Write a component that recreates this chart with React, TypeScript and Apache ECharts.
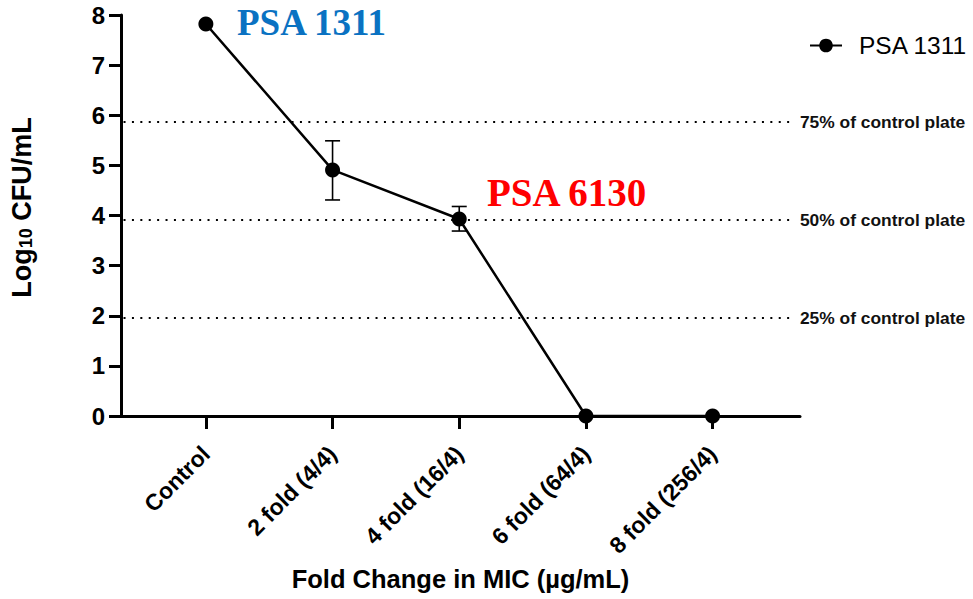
import React, { useEffect, useRef } from "react";
import * as echarts from "echarts";

const categories = ["Control", "2 fold (4/4)", "4 fold (16/4)", "6 fold (64/4)", "8 fold (256/4)"];
const meanLog = [7.82, 4.91, 3.93, 0, 0];
const errLow = [7.82, 4.31, 3.69, 0, 0];
const errHigh = [7.82, 5.49, 4.18, 0, 0];
const refLevels = [5.87, 3.91, 1.955];
const refLabels = ["75% of control plate", "50% of control plate", "25% of control plate"];
const seriesName = "PSA 1311";
const annotationTexts = ["PSA 1311", "PSA 6130"];
const annotationColors = ["#0a72c2", "#ff0000"];

const SANS = "'Liberation Sans', Arial, sans-serif";
const SERIF = "'Liberation Serif', 'Times New Roman', serif";

export default function App() {
  const ref = useRef<HTMLDivElement>(null);

  useEffect(() => {
    if (!ref.current) return;
    const chart = echarts.init(ref.current, null, { renderer: "svg" });

    const lineData = categories.map((_, i) => [i, meanLog[i]]);
    const errData = categories
      .map((_, i) => [i, errLow[i], errHigh[i]])
      .filter((d) => d[2] - d[1] > 0.001);

    const markLineData = refLevels.map((v, i) => [
      { coord: [-0.65, v] },
      { coord: [4.65, v], label: { formatter: refLabels[i] } },
    ]);

    const option: any = {
      animation: false,
      textStyle: { fontFamily: SANS },
      grid: { left: 119, right: 173, top: 15, bottom: 183, containLabel: false },
      legend: {
        data: [seriesName],
        left: 804,
        top: 28,
        itemWidth: 32,
        itemHeight: 17,
        textStyle: { fontSize: 24.5, color: "#000", fontFamily: SANS, padding: [0, 0, 0, 12] },
      },
      xAxis: {
        type: "value",
        min: -0.67,
        max: 4.69,
        splitLine: { show: false },
        axisLine: { show: true, onZero: false, lineStyle: { color: "#000", width: 3 } },
        axisTick: {
          show: true,
          customValues: [0, 1, 2, 3, 4],
          length: 13,
          lineStyle: { color: "#000", width: 3 },
        },
        axisLabel: {
          customValues: [0, 1, 2, 3, 4],
          formatter: (v: number) => categories[Math.round(v)] ?? "",
          rotate: 45,
          margin: 34,
          fontSize: 23,
          fontWeight: "bold",
          color: "#000",
          fontFamily: SANS,
        },
        name: "Fold Change in MIC (µg/mL)",
        nameLocation: "middle",
        nameGap: 150,
        nameTextStyle: { fontSize: 25.5, fontWeight: "bold", color: "#000", fontFamily: SANS },
      },
      yAxis: {
        type: "value",
        min: 0,
        max: 8,
        interval: 1,
        splitLine: { show: false },
        axisLine: { show: true, onZero: false, lineStyle: { color: "#000", width: 3 } },
        axisTick: { show: true, length: 12, lineStyle: { color: "#000", width: 3 } },
        axisLabel: { fontSize: 24, fontWeight: "bold", color: "#000", margin: 16, fontFamily: SANS },
        name: "{a|Log}{b|10}{a| CFU/mL}",
        nameLocation: "middle",
        nameGap: 86,
        nameTextStyle: {
          color: "#000",
          padding: [0, 0, 0, 16],
          rich: {
            a: { fontSize: 27, fontWeight: "bold", color: "#000", fontFamily: SANS },
            b: { fontSize: 18, fontWeight: "bold", color: "#000", fontFamily: SANS, verticalAlign: "bottom" },
          },
        },
      },
      series: [
        {
          type: "custom",
          name: "err",
          z: 1,
          silent: true,
          data: errData,
          renderItem: (params: any, api: any) => {
            const x = api.value(0);
            const lo = api.coord([x, api.value(1)]);
            const hi = api.coord([x, api.value(2)]);
            const w = 7.5;
            const style = { stroke: "#000", lineWidth: 1.6 };
            return {
              type: "group",
              children: [
                { type: "line", shape: { x1: lo[0], y1: lo[1], x2: hi[0], y2: hi[1] }, style },
                { type: "line", shape: { x1: hi[0] - w, y1: hi[1], x2: hi[0] + w, y2: hi[1] }, style },
                { type: "line", shape: { x1: lo[0] - w, y1: lo[1], x2: lo[0] + w, y2: lo[1] }, style },
              ],
            };
          },
        },
        {
          type: "line",
          name: seriesName,
          z: 3,
          clip: false,
          data: lineData,
          symbol: "circle",
          symbolSize: 15,
          lineStyle: { color: "#000", width: 2.5 },
          itemStyle: { color: "#000" },
          markLine: {
            silent: true,
            symbol: ["none", "none"],
            lineStyle: { color: "#000", width: 2.2, type: [2, 6.4], cap: "butt" },
            label: {
              show: true,
              position: "end",
              distance: 5,
              fontSize: 17.4,
              fontWeight: "bold",
              color: "#111",
              fontFamily: SANS,
            },
            data: markLineData,
          },
        },
      ],
      graphic: [
        {
          type: "text",
          left: 237,
          top: 4,
          style: {
            text: annotationTexts[0],
            fill: annotationColors[0],
            font: `bold 37px ${SERIF}`,
          },
        },
        {
          type: "text",
          left: 487,
          top: 173,
          style: {
            text: annotationTexts[1],
            fill: annotationColors[1],
            font: `bold 39px ${SERIF}`,
          },
        },
      ],
    };

    chart.setOption(option);
    return () => chart.dispose();
  }, []);

  return (
    <div
      ref={ref}
      style={{ position: "fixed", left: 0, top: 0, width: 973, height: 599, background: "#fff" }}
    />
  );
}
